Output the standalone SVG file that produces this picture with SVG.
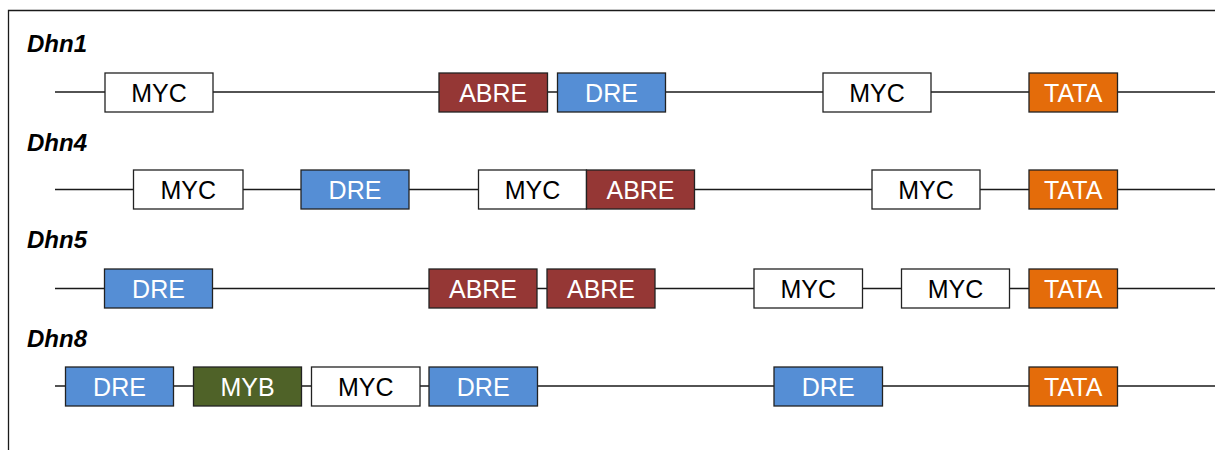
<svg xmlns="http://www.w3.org/2000/svg" width="1215" height="450" viewBox="0 0 1215 450">
<style>
.frame{fill:none;stroke:#1a1a1a;stroke-width:1.3}
.dna{stroke:#1a1a1a;stroke-width:1.3}
.box{stroke:#222;stroke-width:1.3}
.myc{fill:#ffffff}
.abre{fill:#953735}
.dre{fill:#558ed5}
.tata{fill:#e46c0a}
.myb{fill:#4f6228}
.t{font-family:"Liberation Sans",Arial,sans-serif;font-size:25px;text-anchor:middle}
.tw{fill:#ffffff}
.tb{fill:#000000}
.lbl{font-family:"Liberation Sans",Arial,sans-serif;font-size:24px;font-weight:bold;font-style:italic;fill:#000}
</style>
<rect width="1215" height="450" fill="#ffffff"/>
<path class="frame" d="M8.5 460 V10.5 H1225"/>
<g id="connectors">
<line class="dna" x1="55" y1="92" x2="1215" y2="92"/>
<line class="dna" x1="55" y1="189.5" x2="1215" y2="189.5"/>
<line class="dna" x1="55" y1="288.5" x2="1215" y2="288.5"/>
<line class="dna" x1="55" y1="386" x2="1215" y2="386"/>
</g>
<g id="labels">
<text class="lbl" x="27" y="52">Dhn1</text>
<text class="lbl" x="27" y="150.5">Dhn4</text>
<text class="lbl" x="27" y="247.5">Dhn5</text>
<text class="lbl" x="27" y="346.5">Dhn8</text>
</g>
<g id="dhn1">
<g id="dhn1-myc1"><rect class="box myc" x="105" y="73" width="108" height="39"/><text class="t tb" x="159" y="101.5">MYC</text></g>
<g id="dhn1-abre1"><rect class="box abre" x="439" y="73" width="108.5" height="39"/><text class="t tw" x="493.2" y="101.5">ABRE</text></g>
<g id="dhn1-dre1"><rect class="box dre" x="557.5" y="73" width="108" height="39"/><text class="t tw" x="611.5" y="101.5">DRE</text></g>
<g id="dhn1-myc2"><rect class="box myc" x="823" y="73" width="108" height="39"/><text class="t tb" x="877" y="101.5">MYC</text></g>
<g id="dhn1-tata"><rect class="box tata" x="1029" y="73" width="88.5" height="39"/><text class="t tw" x="1073.2" y="101.5">TATA</text></g>
</g>
<g id="dhn4">
<g id="dhn4-myc1"><rect class="box myc" x="133.5" y="170" width="109.5" height="39"/><text class="t tb" x="188.2" y="199">MYC</text></g>
<g id="dhn4-dre1"><rect class="box dre" x="301" y="170" width="108" height="39"/><text class="t tw" x="355" y="199">DRE</text></g>
<g id="dhn4-myc2"><rect class="box myc" x="478.5" y="170" width="108" height="39"/><text class="t tb" x="532.5" y="199">MYC</text></g>
<g id="dhn4-abre1"><rect class="box abre" x="586.5" y="170" width="108" height="39"/><text class="t tw" x="640.5" y="199">ABRE</text></g>
<g id="dhn4-myc3"><rect class="box myc" x="872" y="170" width="108" height="39"/><text class="t tb" x="926" y="199">MYC</text></g>
<g id="dhn4-tata"><rect class="box tata" x="1029" y="170" width="88.5" height="39"/><text class="t tw" x="1073.2" y="199">TATA</text></g>
</g>
<g id="dhn5">
<g id="dhn5-dre1"><rect class="box dre" x="104.5" y="269" width="108" height="39"/><text class="t tw" x="158.5" y="298">DRE</text></g>
<g id="dhn5-abre1"><rect class="box abre" x="429" y="269" width="108" height="39"/><text class="t tw" x="483" y="298">ABRE</text></g>
<g id="dhn5-abre2"><rect class="box abre" x="547" y="269" width="108" height="39"/><text class="t tw" x="601" y="298">ABRE</text></g>
<g id="dhn5-myc1"><rect class="box myc" x="754" y="269" width="108.5" height="39"/><text class="t tb" x="808.2" y="298">MYC</text></g>
<g id="dhn5-myc2"><rect class="box myc" x="901.5" y="269" width="108" height="39"/><text class="t tb" x="955.5" y="298">MYC</text></g>
<g id="dhn5-tata"><rect class="box tata" x="1029" y="269" width="88.5" height="39"/><text class="t tw" x="1073.2" y="298">TATA</text></g>
</g>
<g id="dhn8">
<g id="dhn8-dre1"><rect class="box dre" x="65.5" y="367" width="108" height="39"/><text class="t tw" x="119.5" y="395.5">DRE</text></g>
<g id="dhn8-myb1"><rect class="box myb" x="193.5" y="367" width="108" height="39"/><text class="t tw" x="247.5" y="395.5">MYB</text></g>
<g id="dhn8-myc1"><rect class="box myc" x="311.5" y="367" width="108.5" height="39"/><text class="t tb" x="365.7" y="395.5">MYC</text></g>
<g id="dhn8-dre2"><rect class="box dre" x="429" y="367" width="108.5" height="39"/><text class="t tw" x="483.2" y="395.5">DRE</text></g>
<g id="dhn8-dre3"><rect class="box dre" x="774" y="367" width="108.5" height="39"/><text class="t tw" x="828.2" y="395.5">DRE</text></g>
<g id="dhn8-tata"><rect class="box tata" x="1029" y="367" width="88.5" height="39"/><text class="t tw" x="1073.2" y="395.5">TATA</text></g>
</g>
</svg>
